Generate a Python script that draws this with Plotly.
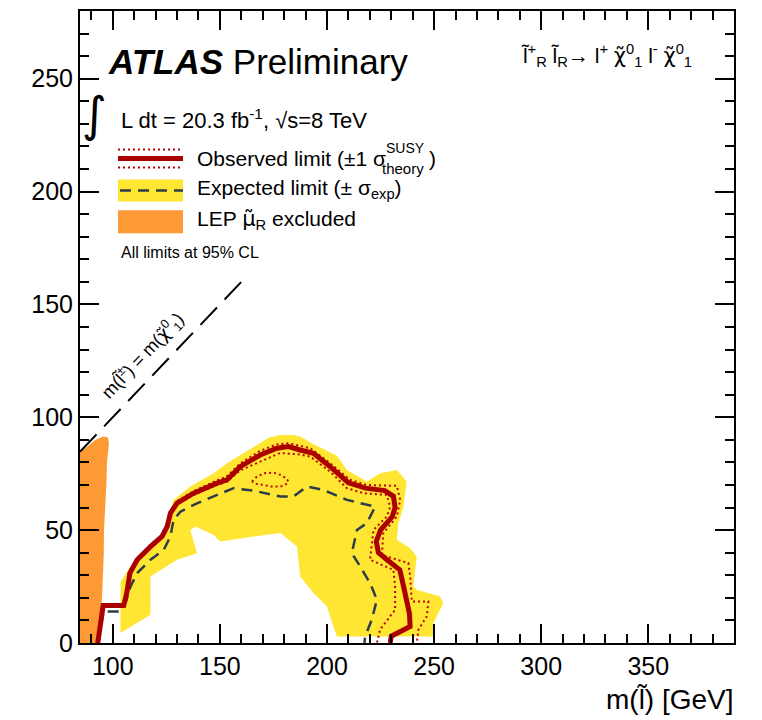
import plotly.graph_objects as go

# ---------------- data (GeV) ----------------
obs_x = [93.0, 94.5, 95.5, 105.1, 106.5, 108.0, 111.4, 117.6, 123.0, 125.4, 126.9, 130.0,
         137.8, 148.7, 153.3, 159.5, 168.8, 176.6, 182.0, 187.5, 193.7, 201.5, 210.0, 218.0,
         227.0, 231.0, 231.8, 230.5, 225.0, 223.0, 224.0, 228.0, 234.0, 236.0, 238.5, 238.8,
         230.0, 229.5]
obs_y = [0.0, 10.0, 16.6, 16.6, 22.0, 31.0, 36.9, 42.7, 47.2, 51.6, 57.5, 62.0,
         66.4, 70.8, 72.3, 78.1, 83.3, 86.3, 87.0, 85.5, 84.0, 78.1, 71.0, 68.6,
         67.5, 65.0, 60.0, 56.0, 50.0, 45.0, 40.0, 36.9, 32.4, 24.0, 13.0, 7.3,
         3.0, 0.0]

obs_up_x = [93.2, 94.7, 95.6, 105.0, 106.3, 107.6, 111.2, 117.3, 122.7, 125.0, 126.5, 129.6,
            137.5, 148.5, 153.0, 159.5, 168.5, 176.5, 182.0, 192.2, 201.5, 210.8, 218.6,
            226.0, 232.6, 234.2, 232.6, 226.3, 225.6, 238.0, 238.8, 239.6, 247.3, 246.6,
            242.7, 241.9]
obs_up_y = [0.0, 10.0, 17.2, 17.2, 22.6, 31.6, 37.5, 43.3, 47.8, 52.2, 58.1, 62.6,
            67.2, 72.0, 73.6, 79.5, 85.0, 88.0, 88.5, 86.3, 79.6, 72.3, 70.0,
            69.8, 69.6, 63.4, 56.0, 48.7, 39.0, 35.4, 29.5, 18.4, 18.4, 11.8,
            5.9, 0.0]

obs_dn_x = [93.0, 94.5, 95.5, 105.1, 106.5, 108.0, 111.4, 117.6, 123.0, 125.4, 126.9, 130.0,
            137.8, 148.7, 153.3, 159.5, 168.8, 178.2, 187.5, 192.2, 201.5, 209.3, 217.0,
            227.9, 229.5, 227.9, 221.7, 220.1, 231.0, 231.8, 231.8, 224.8, 223.3]
obs_dn_y = [0.0, 10.0, 16.2, 16.2, 21.5, 30.5, 36.3, 42.0, 46.5, 51.0, 56.8, 61.3,
            65.7, 70.0, 71.5, 76.5, 80.5, 84.2, 83.5, 82.6, 75.9, 68.6, 66.4,
            65.6, 60.4, 56.0, 50.1, 36.9, 32.4, 25.0, 14.7, 5.9, 0.0]

island_x = [165.0, 167.0, 170.4, 175.0, 178.2, 181.0, 182.0, 180.5, 178.2, 174.0, 170.4, 167.0, 165.0]
island_y = [71.5, 73.5, 75.2, 75.5, 74.5, 73.0, 71.5, 70.0, 69.3, 69.3, 70.0, 70.5, 71.5]

exp_x = [93.3, 94.5, 95.8, 102.8, 105.9, 108.3, 111.4, 117.6, 123.8, 126.9, 128.4, 131.6,
         139.3, 147.1, 156.4, 165.7, 178.2, 184.4, 190.6, 198.4, 209.3, 222.5, 218.6,
         214.0, 211.6, 215.5, 220.1, 223.3, 220.9, 217.8, 217.5]
exp_y = [0.0, 8.0, 14.0, 14.0, 17.7, 25.0, 31.0, 36.9, 41.3, 47.2, 54.6, 58.2,
         61.9, 64.9, 68.6, 67.5, 64.9, 64.9, 69.3, 67.8, 63.4, 60.4, 53.1,
         50.1, 39.8, 33.9, 26.5, 19.2, 10.3, 2.9, 0.0]

band_x = [103.6, 103.6, 108.3, 114.5, 122.2, 125.4, 128.4, 136.2, 147.1, 153.3, 165.7, 173.0,
          178.2, 184.4, 187.5, 193.7, 204.6, 209.3, 218.6, 224.8, 232.6, 237.2, 235.7, 233.3,
          232.6, 238.8, 241.9, 240.3, 241.9, 252.8, 254.3, 249.7, 249.7,
          204.6, 203.0, 200.0, 193.7, 187.5, 186.0, 178.2, 165.7, 150.2, 147.1, 138.6, 136.2,
          139.3, 130.0, 117.6, 117.6, 103.6]
band_y = [4.4, 27.0, 33.9, 39.8, 47.2, 54.6, 63.4, 69.3, 75.2, 79.6, 87.0, 91.0,
          92.2, 92.2, 91.5, 88.0, 83.0, 76.7, 71.5, 75.2, 76.7, 71.5, 60.4, 53.1,
          45.7, 42.0, 38.3, 25.0, 23.6, 20.6, 17.7, 8.8, 2.9,
          2.9, 7.3, 16.2, 22.1, 29.5, 42.7, 48.7, 47.2, 45.0, 47.9, 51.6, 50.1,
          39.8, 36.9, 29.5, 12.5, 4.4]

lep_x = [84.7, 84.7, 88.0, 92.0, 95.5, 97.8, 98.2, 97.3, 97.0, 96.3, 95.9, 95.8, 95.5, 95.0, 94.0, 93.3]
lep_y = [0.0, 84.5, 87.0, 90.0, 91.5, 91.0, 88.0, 80.0, 70.0, 60.0, 50.0, 40.0, 30.0, 20.0, 10.0, 0.0]

diag_x = [84.7, 160.0]
diag_y = [84.7, 160.0]

x_range = [84.7, 390.0]
y_range = [0.0, 280.0]

# ---------------- styles ----------------
RED = "#aa0000"
DOTRED = "#c00000"
YELLOW = "#fee633"
ORANGE = "#fd9a35"
SLATE = "#2e3d47"
FONT = "Liberation Sans"
GK = '<span style="font-family:DejaVu Sans">'
EXP_DASH = "11px,7px"

fig = go.Figure()
fig.add_trace(go.Scatter(x=band_x, y=band_y, fill="toself", fillcolor=YELLOW,
                         line=dict(width=0), mode="lines", hoverinfo="skip"))
fig.add_trace(go.Scatter(x=lep_x, y=lep_y, fill="toself", fillcolor=ORANGE,
                         line=dict(width=0), mode="lines", hoverinfo="skip"))
fig.add_trace(go.Scatter(x=exp_x, y=exp_y, mode="lines",
                         line=dict(color=SLATE, width=2.5, dash=EXP_DASH)))
fig.add_trace(go.Scatter(x=diag_x, y=diag_y, mode="lines",
                         line=dict(color="black", width=2, dash="24px,11px")))
for xs, ys in [(obs_up_x, obs_up_y), (obs_dn_x, obs_dn_y), (island_x, island_y)]:
    fig.add_trace(go.Scatter(x=xs, y=ys, mode="lines",
                             line=dict(color=DOTRED, width=2, dash="2px,3px")))
fig.add_trace(go.Scatter(x=obs_x, y=obs_y, mode="lines",
                         line=dict(color=RED, width=5)))

# ---------------- layout ----------------
# page has an 8px body margin: the figure is offset by (8, 8) in the window
OFF = 8
W, H = 762 - OFF, 720 - OFF
L, R, T, B = 72, 28, 1, 77
PW, PH = W - L - R, H - T - B


def px(x):
    # page pixel x -> paper
    return (x - OFF - L) / PW


def py(y):
    # page pixel y -> paper
    return (H - B - (y - OFF)) / PH


def text(x, y, s, size, anchor="left", angle=0, color="black", family=FONT):
    fig.add_annotation(x=px(x), y=py(y), xref="paper", yref="paper", text=s,
                       showarrow=False, xanchor=anchor, yanchor="middle",
                       textangle=angle, font=dict(family=family, size=size, color=color))


axis_common = dict(showgrid=False, zeroline=False, showline=True, linecolor="black",
                   linewidth=2, mirror="allticks", ticks="inside", ticklen=19,
                   tickwidth=1.5, tickcolor="black",
                   tickfont=dict(family=FONT, size=25, color="black"))
fig.update_xaxes(range=x_range, dtick=50, tick0=0,
                 minor=dict(dtick=10, ticklen=9, ticks="inside", tickcolor="black", tickwidth=1.5),
                 **axis_common)
fig.update_yaxes(range=y_range, dtick=50, tick0=0,
                 minor=dict(dtick=10, ticklen=9, ticks="inside", tickcolor="black", tickwidth=1.5),
                 **axis_common)

fig.update_layout(width=W, height=H, margin=dict(l=L, r=R, t=T, b=B),
                  plot_bgcolor="white", paper_bgcolor="white", showlegend=False)

# header texts
text(106, 60, "<b><i>ATLAS</i></b> Preliminary", 35)
text(606, 54, "l̃<sup>+</sup><sub>R</sub> l̃<sub>R</sub>→ l<sup>+</sup> " + GK + "χ̃</span><sup>0</sup><sub>1</sub> l<sup>-</sup> "
     + GK + "χ̃</span><sup>0</sup><sub>1</sub>", 21, anchor="center")
text(94, 112, "∫", 48, anchor="center", family="DejaVu Sans")
text(119, 117, "L dt = 20.3 fb<sup>-1</sup>, √s=8 TeV", 22)

# legend entries
fig.add_shape(type="line", xref="paper", yref="paper", x0=px(118), x1=px(183), y0=py(157), y1=py(157),
              line=dict(color=RED, width=5))
for yy in (148, 166):
    fig.add_shape(type="line", xref="paper", yref="paper", x0=px(118), x1=px(183), y0=py(yy), y1=py(yy),
                  line=dict(color=DOTRED, width=2, dash="2px,3px"))
fig.add_shape(type="rect", xref="paper", yref="paper", x0=px(118), x1=px(183), y0=py(200), y1=py(178),
              fillcolor=YELLOW, line=dict(width=0))
fig.add_shape(type="line", xref="paper", yref="paper", x0=px(120), x1=px(183), y0=py(189), y1=py(189),
              line=dict(color=SLATE, width=2.5, dash=EXP_DASH))
fig.add_shape(type="rect", xref="paper", yref="paper", x0=px(118), x1=px(183), y0=py(232), y1=py(209),
              fillcolor=ORANGE, line=dict(width=0))

text(195, 157, "Observed limit (±1 σ", 21)
text(384, 146, "SUSY", 14)
text(380, 167, "theory", 15)
text(427, 157, ")", 21)
text(195, 188, "Expected limit (± σ<sub>exp</sub>)", 21)
text(195, 219, "LEP " + GK + "μ̃</span><sub>R</sub> excluded", 21)
text(119, 251, "All limits at 95% CL", 16)

# diagonal label
text(143, 355, "m(l̃<sup>±</sup>) = m(" + GK + "χ̃</span><sup>0</sup><sub>1</sub>)", 18, anchor="center", angle=-46.5)

# x axis title
text(736, 700, "m(l̃) [GeV]", 28, anchor="right")

fig.write_html("out.html")
